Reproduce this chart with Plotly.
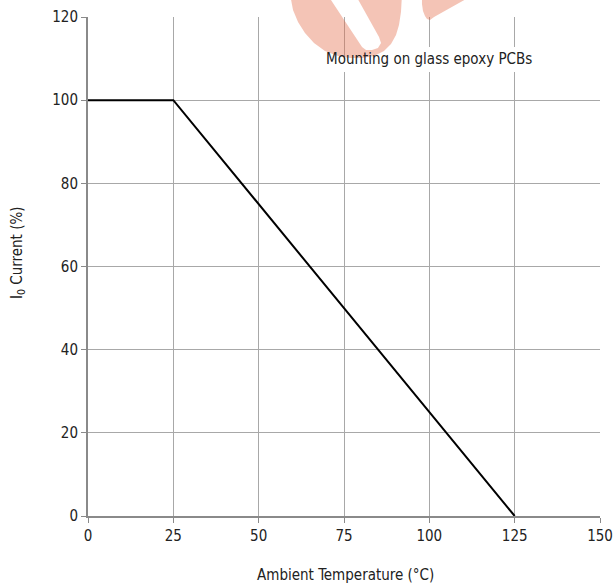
import plotly.graph_objects as go

# Data
temperature = [0, 25, 125]
current_pct = [100, 100, 0]
x_ticks = [0, 25, 50, 75, 100, 125, 150]
y_ticks = [0, 20, 40, 60, 80, 100, 120]
note_text = "Mounting on glass epoxy PCBs"
x_title = "Ambient Temperature (°C)"
y_title = "I<sub>0</sub> Current (%)"

W, H = 615, 586
L, R, T, B = 88, 15, 17, 70
PW, PH = W - L - R, H - T - B

def pp(px, py):
    # pixel -> paper coords (for the decorative watermark / boxes)
    return (px - L) / PW, 1 - (py - T) / PH

def poly(pts):
    parts = []
    for i, (px, py) in enumerate(pts):
        u, v = pp(px, py)
        parts.append(("M" if i == 0 else "L") + f"{u:.4f},{v:.4f}")
    return " ".join(parts) + " Z"

def white_box(px0, py0, px1, py1):
    x0, y0 = pp(px0, py0)
    x1, y1 = pp(px1, py1)
    return dict(type="rect", xref="paper", yref="paper",
                x0=x0, x1=x1, y0=y1, y1=y0,
                fillcolor="white", line=dict(width=0), layer="above")

# watermark outline (decorative logo fragment, pixel positions)
left_blob = poly([
    (290, -6), (293, 10), (298, 22), (305, 33), (314, 43), (325, 51),
    (338, 56), (350, 58), (362, 58), (374, 56), (384, 51), (391, 44),
    (396, 35), (399, 25), (401, 12), (402, -6),
    (355, -6), (379, 37), (381, 43), (378, 48), (372, 50), (366, 50),
    (362, 47), (327, -6),
])
right_blob = poly([
    (422, -6), (422, 4), (423, 11), (425, 16), (427, 19), (430, 20),
    (434, 17), (475, -6),
])

wm_color = "rgba(228,108,72,0.40)"

fig = go.Figure()
fig.add_trace(go.Scatter(
    x=temperature, y=current_pct, mode="lines",
    line=dict(color="black", width=2), hoverinfo="skip", showlegend=False,
))

font_family = "DejaVu Sans Condensed, Liberation Sans Narrow, Roboto, sans-serif"
FS = 15

axis_common = dict(
    showgrid=True, gridcolor="#a8a8a8", gridwidth=1,
    showline=True, linecolor="#8a8a8a", linewidth=2, mirror=False,
    ticks="outside", ticklen=5, tickcolor="#8a8a8a", tickwidth=1,
    zeroline=False, fixedrange=True, automargin=False,
    tickfont=dict(size=FS),
)

fig.update_layout(
    width=W, height=H,
    margin=dict(l=L, r=R, t=T, b=B, autoexpand=False),
    paper_bgcolor="white", plot_bgcolor="white",
    font=dict(family=font_family, size=FS, color="#222"),
    showlegend=False,
    xaxis=dict(range=[0, 150], tickvals=x_ticks, ticktext=[str(v) for v in x_ticks],
               **axis_common),
    yaxis=dict(range=[0, 120], tickvals=y_ticks, ticktext=[str(v) for v in y_ticks],
               **axis_common),
    shapes=[
        white_box(403, 47, 533, 72),
        white_box(326, 59, 403, 72),
        dict(type="path", xref="paper", yref="paper", path=left_blob,
             fillcolor=wm_color, line=dict(width=0), layer="above"),
        dict(type="path", xref="paper", yref="paper", path=right_blob,
             fillcolor=wm_color, line=dict(width=0), layer="above"),
    ],
    annotations=[
        dict(x=100, y=110, xref="x", yref="y", text=note_text, showarrow=False,
             font=dict(size=FS, color="#222"),
             xanchor="center", yanchor="middle"),
        dict(x=pp(345, 575)[0], y=pp(345, 575)[1], xref="paper", yref="paper",
             text=x_title, showarrow=False, font=dict(size=FS, color="#222"),
             xanchor="center", yanchor="middle"),
        dict(x=pp(17, 253)[0], y=pp(17, 253)[1], xref="paper", yref="paper",
             text=y_title, showarrow=False, textangle=-90,
             font=dict(size=FS, color="#222"),
             xanchor="center", yanchor="middle"),
    ],
)

fig.write_html("out.html", config={"displayModeBar": False},
               post_script="document.body.style.margin='0';")
